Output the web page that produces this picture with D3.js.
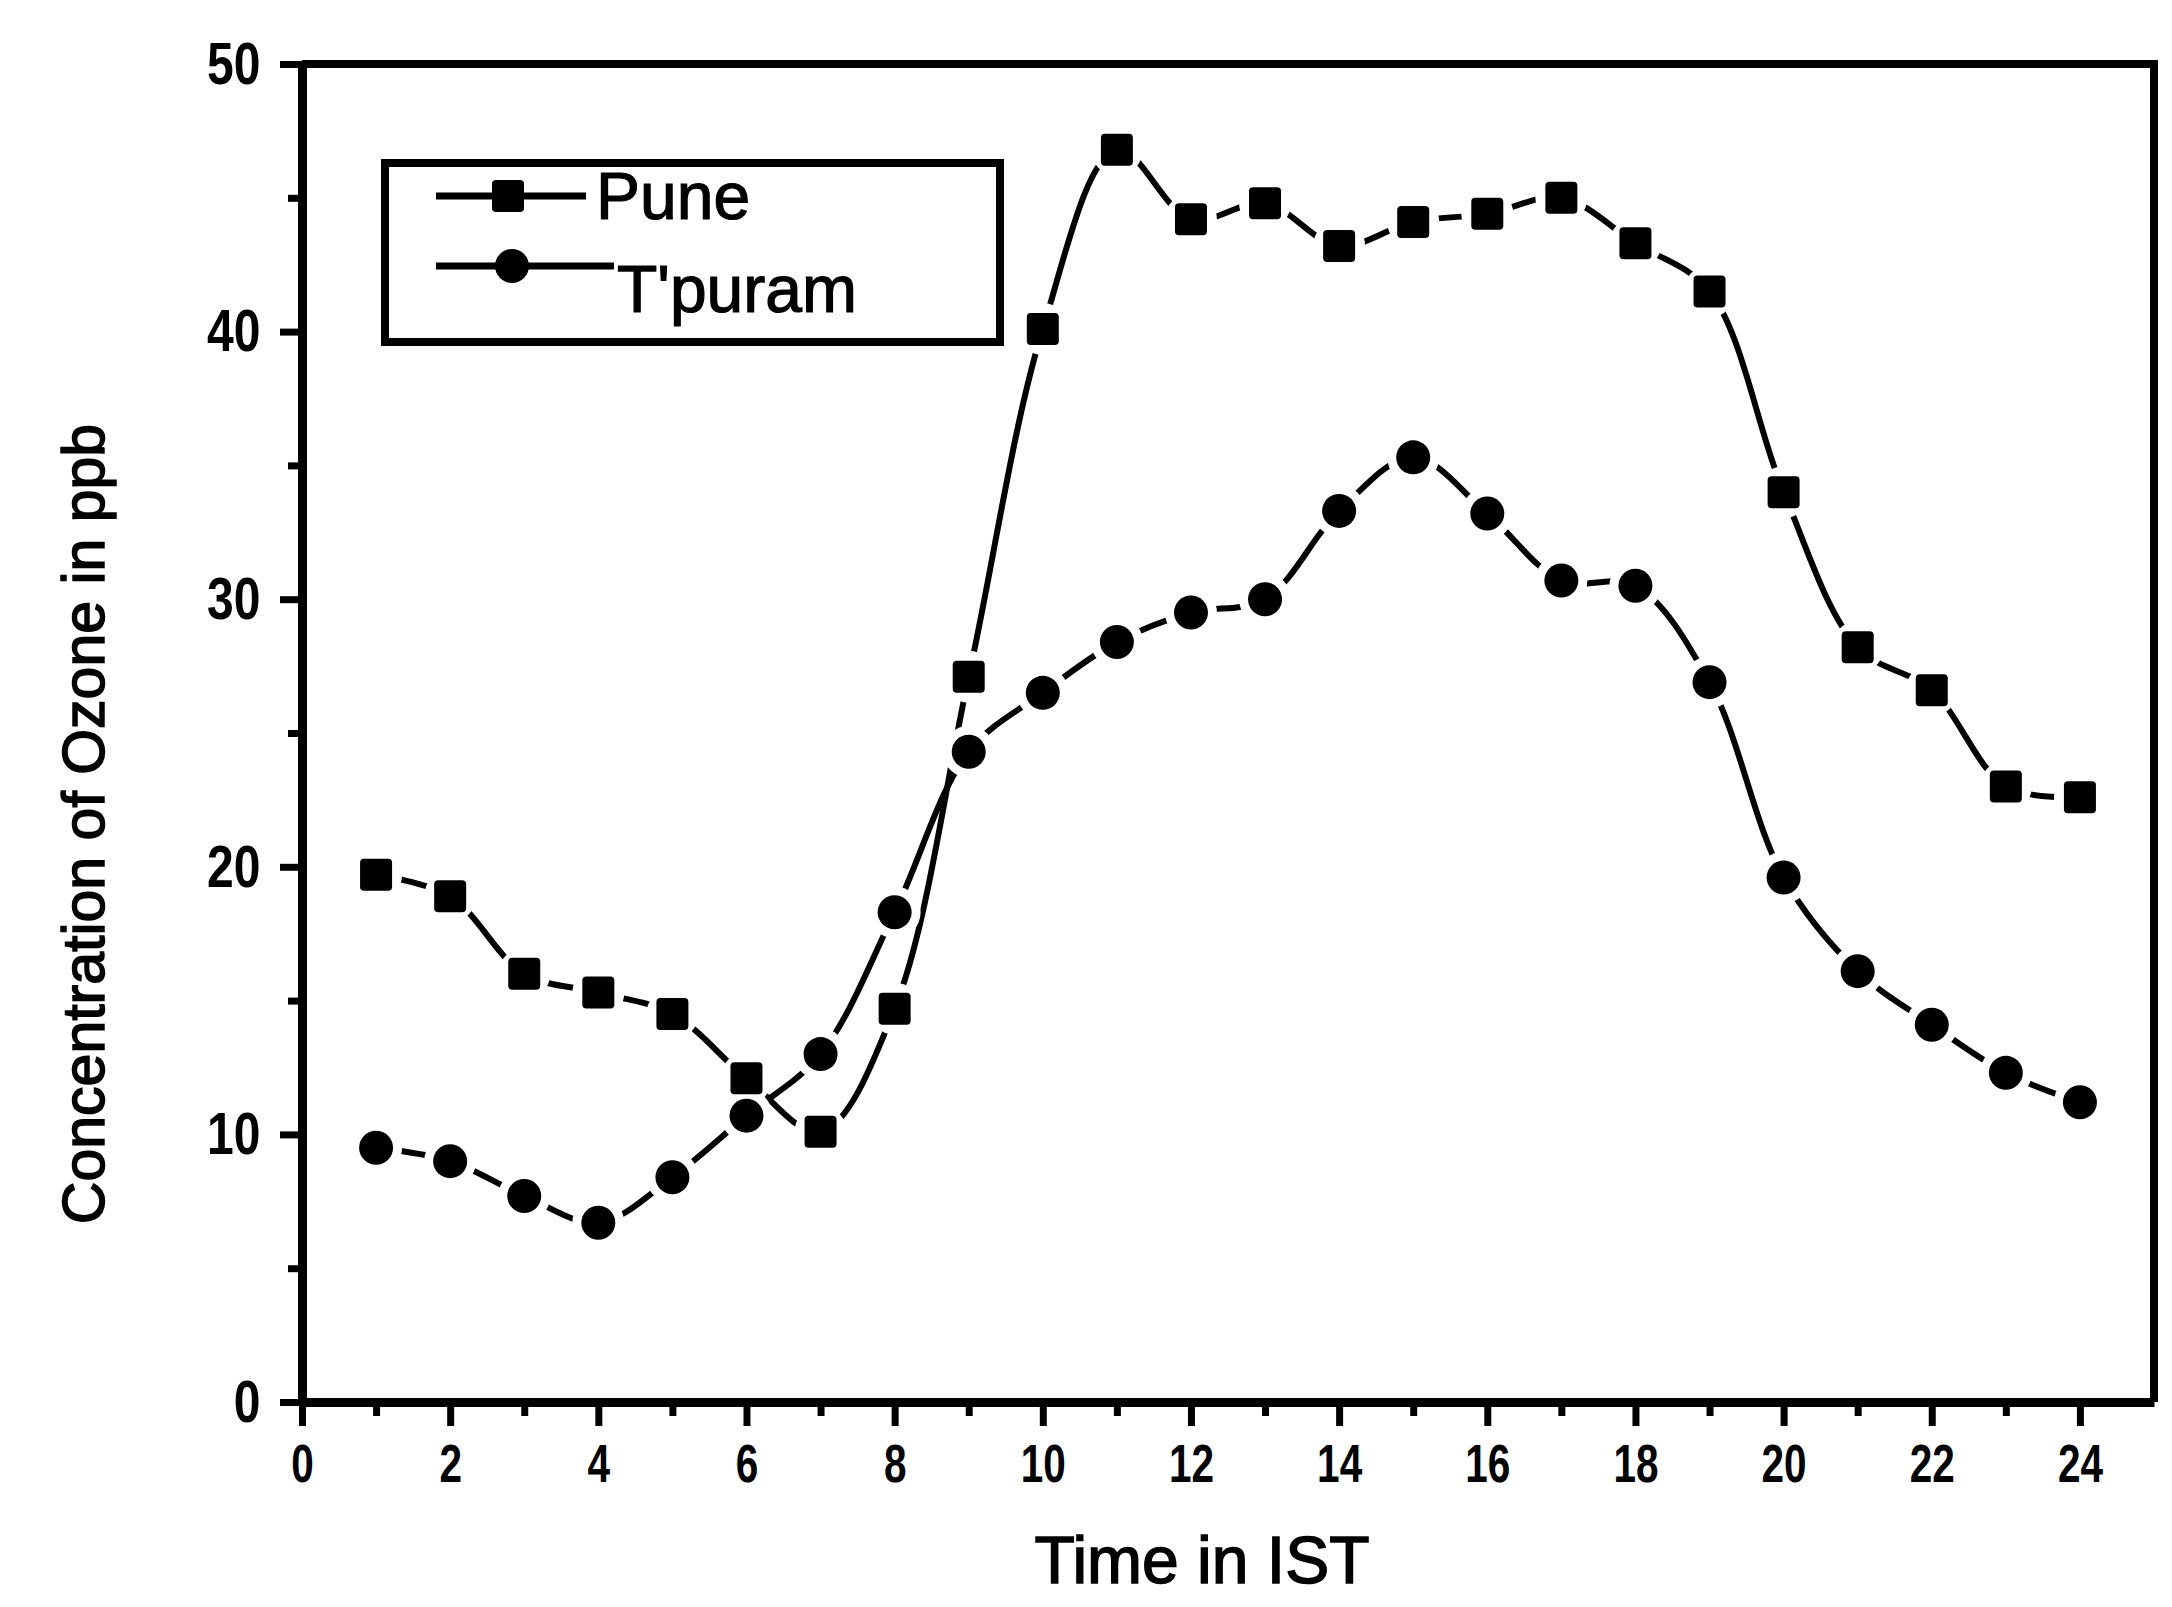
<!DOCTYPE html>
<html>
<head>
<meta charset="utf-8">
<title>Ozone Pune and T'puram</title>
<style>
    body { margin: 0; background: #fff; }
    text { fill: #000; }
</style>
</head>
<body>
<svg id="chart" width="2172" height="1607"></svg>
<script src="https://cdn.jsdelivr.net/npm/d3@7"></script>
<script>
// values
const hours = [1, 2, 3, 4, 5, 6, 7, 8, 9, 10, 11, 12, 13, 14, 15, 16, 17, 18, 19, 20, 21, 22, 23, 24];
const pune = [19.7, 18.9, 16.0, 15.3, 14.5, 12.1, 10.1, 14.7, 27.1, 40.1, 46.8, 44.2, 44.8, 43.2, 44.1, 44.4, 45.0, 43.3, 41.5, 34.0, 28.2, 26.6, 23.0, 22.6];
const tpuram = [9.5, 9.0, 7.7, 6.7, 8.4, 10.7, 13.0, 18.3, 24.3, 26.5, 28.4, 29.5, 30.0, 33.3, 35.3, 33.2, 30.7, 30.5, 26.9, 19.6, 16.1, 14.1, 12.3, 11.2];
const xTicks = [0, 2, 4, 6, 8, 10, 12, 14, 16, 18, 20, 22, 24];
const xMinor = [1, 3, 5, 7, 9, 11, 13, 15, 17, 19, 21, 23];
const yTicks = [0, 10, 20, 30, 40, 50];
const yMinor = [5, 15, 25, 35, 45];
const seriesNames = ["Pune", "T'puram"];

const svg = d3.select("#chart");
const plotLeft = 302, plotRight = 2154, plotTop = 64, plotBottom = 1402;

const x = d3.scaleLinear().domain([0, 25]).range([plotLeft, plotRight]);
const y = d3.scaleLinear().domain([0, 50]).range([plotBottom, plotTop]);

const tickFont = "'Liberation Sans', Arial, sans-serif";
const labelFont = "'Liberation Sans', Arial, sans-serif";

// x axis, major and minor
const xAxis = svg.append("g").attr("transform", `translate(0,${plotBottom})`)
    .call(d3.axisBottom(x).tickValues(xTicks).tickSize(24).tickSizeOuter(0).tickPadding(18));
svg.append("g").attr("transform", `translate(0,${plotBottom})`)
    .call(d3.axisBottom(x).tickValues(xMinor).tickSize(14).tickSizeOuter(0).tickFormat(""))
    .select(".domain").remove();
// the scanned digits are narrow, so squeeze them a bit
xAxis.selectAll("text")
    .attr("font-family", tickFont).attr("font-weight", "bold").attr("font-size", 54)
    .attr("transform", "scale(0.75,1)");

// y axis, major and minor
const yAxis = svg.append("g").attr("transform", `translate(${plotLeft},0)`)
    .call(d3.axisLeft(y).tickValues(yTicks).tickSize(22).tickSizeOuter(0).tickPadding(16));
svg.append("g").attr("transform", `translate(${plotLeft},0)`)
    .call(d3.axisLeft(y).tickValues(yMinor).tickSize(14).tickSizeOuter(0).tickFormat(""))
    .select(".domain").remove();
yAxis.selectAll("text")
    .attr("font-family", tickFont).attr("font-weight", "bold").attr("font-size", 60)
    .attr("x", -52)
    .attr("transform", "scale(0.8,1)");

svg.selectAll(".domain").attr("stroke", "#000").attr("stroke-width", 9);
svg.selectAll(".tick line").attr("stroke", "#000").attr("stroke-width", 7);

// top and right frame
svg.append("path")
    .attr("d", `M${plotLeft},${plotTop}H${plotRight}V${plotBottom}`)
    .attr("fill", "none").attr("stroke", "#000").attr("stroke-width", 8);

// axis titles
svg.append("text")
    .attr("x", 1202).attr("y", 1583)
    .attr("text-anchor", "middle")
    .attr("font-family", labelFont).attr("font-size", 66)
    .attr("stroke", "#000").attr("stroke-width", 1.5)
    .text("Time in IST");

svg.append("text")
    .attr("transform", "translate(104,824) rotate(-90)")
    .attr("text-anchor", "middle")
    .attr("font-family", labelFont).attr("font-size", 59)
    .attr("stroke", "#000").attr("stroke-width", 1.5)
    .text("Concentration of Ozone in ppb");

// lines
const line = d3.line()
    .x((d, i) => x(hours[i]))
    .y(d => y(d))
    .curve(d3.curveCatmullRom.alpha(0.5));

[pune, tpuram].forEach(vals => {
    svg.append("path")
        .attr("d", line(vals))
        .attr("fill", "none").attr("stroke", "#000").attr("stroke-width", 6);
});

// white gap round each marker, as in the original
[pune, tpuram].forEach(vals => {
    svg.append("g").selectAll("circle").data(vals).join("circle")
        .attr("cx", (d, i) => x(hours[i]))
        .attr("cy", d => y(d))
        .attr("r", 26)
        .attr("fill", "#fff");
});

const sq = 32;
svg.append("g").selectAll("rect").data(pune).join("rect")
    .attr("x", (d, i) => x(hours[i]) - sq / 2)
    .attr("y", d => y(d) - sq / 2)
    .attr("width", sq).attr("height", sq)
    .attr("rx", 4)
    .attr("fill", "#000");

svg.append("g").selectAll("circle").data(tpuram).join("circle")
    .attr("cx", (d, i) => x(hours[i]))
    .attr("cy", d => y(d))
    .attr("r", 17)
    .attr("fill", "#000");

// legend
const legend = svg.append("g");
legend.append("rect")
    .attr("x", 385).attr("y", 163).attr("width", 615).attr("height", 179)
    .attr("fill", "#fff").attr("stroke", "#000").attr("stroke-width", 8);

legend.append("line").attr("x1", 436).attr("x2", 586).attr("y1", 196).attr("y2", 196)
    .attr("stroke", "#000").attr("stroke-width", 7);
legend.append("rect").attr("x", 508 - sq / 2).attr("y", 196 - sq / 2)
    .attr("width", sq).attr("height", sq).attr("rx", 4).attr("fill", "#000");
legend.append("text").attr("x", 596).attr("y", 219)
    .attr("font-family", labelFont).attr("font-size", 66)
    .attr("stroke", "#000").attr("stroke-width", 1.2)
    .text(seriesNames[0]);

legend.append("line").attr("x1", 436).attr("x2", 614).attr("y1", 266).attr("y2", 266)
    .attr("stroke", "#000").attr("stroke-width", 7);
legend.append("circle").attr("cx", 512).attr("cy", 266).attr("r", 17).attr("fill", "#000");
legend.append("text").attr("x", 617).attr("y", 312)
    .attr("font-family", labelFont).attr("font-size", 66)
    .attr("stroke", "#000").attr("stroke-width", 1.2)
    .text(seriesNames[1]);
</script>
</body>
</html>
